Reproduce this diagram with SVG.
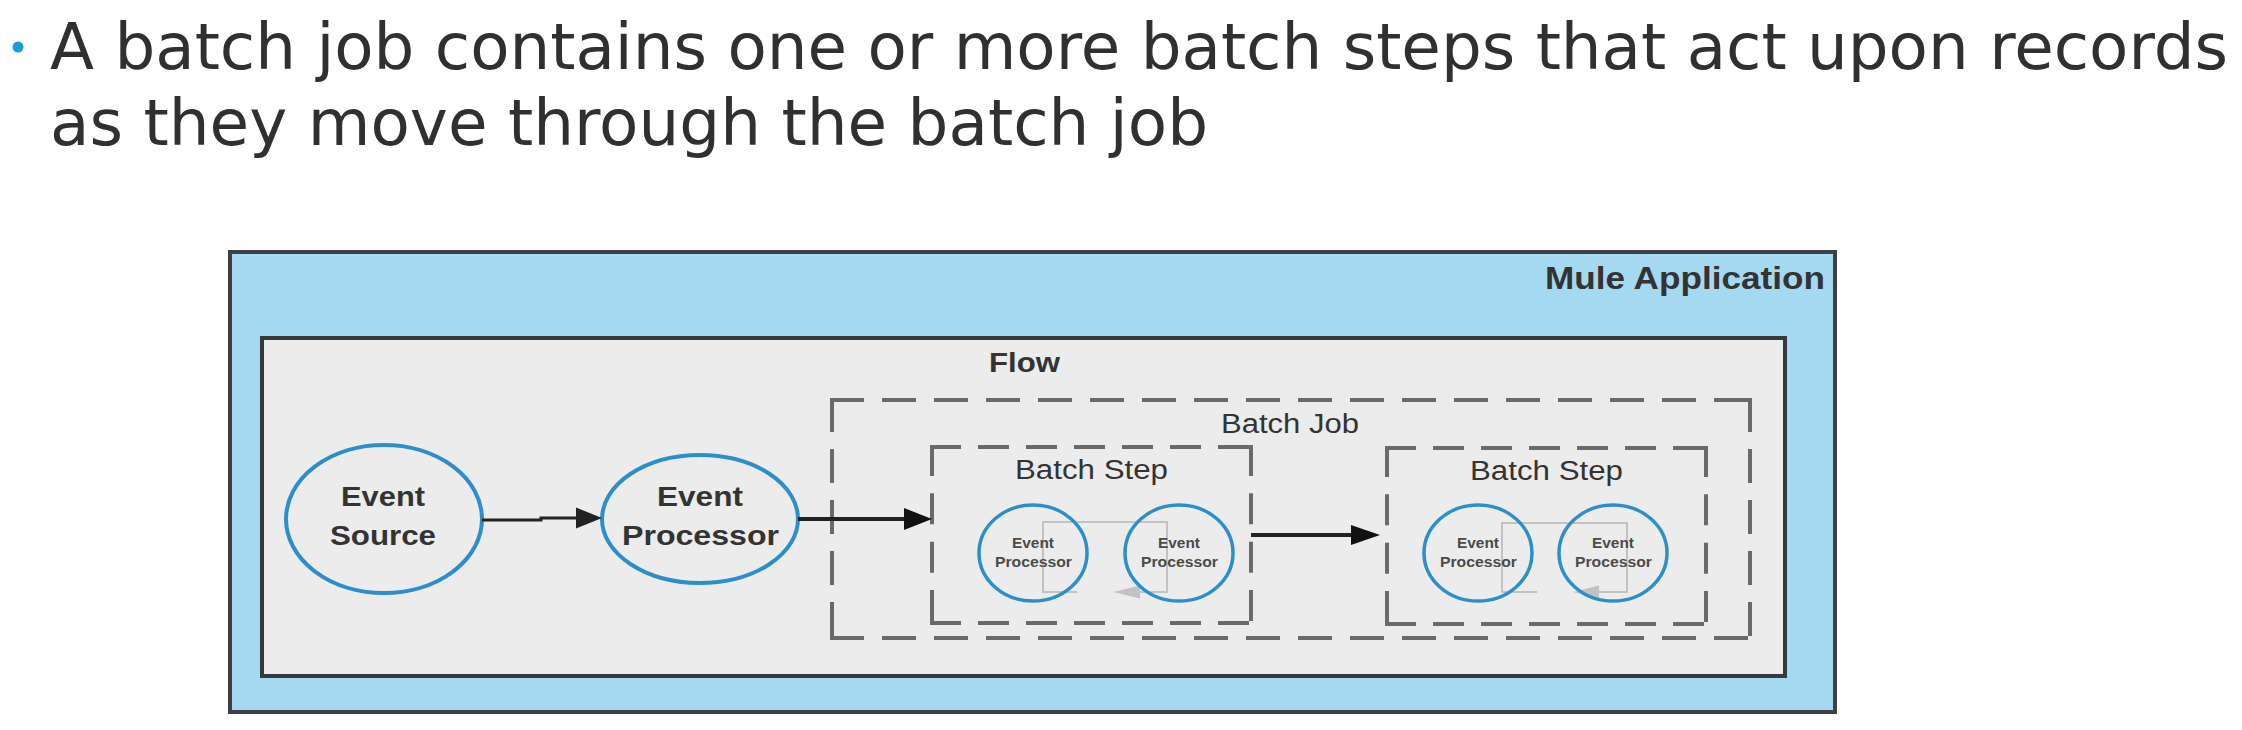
<svg xmlns="http://www.w3.org/2000/svg" width="2242" height="730" viewBox="0 0 2242 730">
<style>
.head{font-family:"DejaVu Sans",Verdana,sans-serif;font-size:64px;fill:#303030}
.lbl{font-family:"Liberation Sans",Arial,sans-serif;fill:#333}
.b{font-weight:bold}
.ell{fill:none;stroke:#2c8fcb;stroke-width:4}
.sell{fill:none;stroke:#2c8fcb;stroke-width:3.5}
.dh{stroke:#6a6a6a;stroke-width:4;stroke-linecap:square;fill:none}
.loop{fill:none;stroke:#c2c2c2;stroke-width:2}
.conn{fill:none;stroke:#222}
.tiny{font-family:"Liberation Sans",Arial,sans-serif;font-size:14px;font-weight:bold;fill:#4a4a4a}
</style>
<rect width="2242" height="730" fill="#ffffff"/>
<g id="heading">
<circle cx="18" cy="47" r="5.5" fill="#1b9bd7"/>
<text class="head" x="50" y="69" textLength="2178" lengthAdjust="spacingAndGlyphs">A batch job contains one or more batch steps that act upon records</text>
<text class="head" x="50" y="145" textLength="1158" lengthAdjust="spacingAndGlyphs">as they move through the batch job</text>
</g>
<g id="mule-application">
<rect x="230" y="252" width="1605" height="460" fill="#a4d9f1" stroke="#3b4144" stroke-width="4"/>
<text class="lbl b" x="1545" y="289" font-size="31" textLength="280" lengthAdjust="spacingAndGlyphs">Mule Application</text>
</g>
<g id="flow">
<rect x="262" y="338" width="1523" height="338" fill="#ececec" stroke="#33393c" stroke-width="4"/>
<text class="lbl b" x="989" y="372" font-size="28" textLength="71" lengthAdjust="spacingAndGlyphs">Flow</text>
</g>
<g id="batch-job">
<line class="dh" x1="832" y1="400" x2="1750" y2="400" stroke-dasharray="30 22"/>
<line class="dh" x1="832" y1="638" x2="1750" y2="638" stroke-dasharray="30 22"/>
<line class="dh" x1="832" y1="400" x2="832" y2="638" stroke-dasharray="30 21"/>
<line class="dh" x1="1750" y1="400" x2="1750" y2="638" stroke-dasharray="30 21"/>
<text class="lbl" x="1221" y="433" font-size="27" textLength="138" lengthAdjust="spacingAndGlyphs">Batch Job</text>
</g>
<g id="batch-step-1">
<line class="dh" x1="932" y1="447" x2="1251" y2="447" stroke-dasharray="27 21"/>
<line class="dh" x1="932" y1="623" x2="1251" y2="623" stroke-dasharray="27 21"/>
<line class="dh" x1="932" y1="447" x2="932" y2="623" stroke-dasharray="27 21.33"/>
<line class="dh" x1="1251" y1="447" x2="1251" y2="623" stroke-dasharray="27 21.33"/>
<text class="lbl" x="1015" y="479" font-size="27" textLength="153" lengthAdjust="spacingAndGlyphs">Batch Step</text>
<path class="loop" d="M1077 592 H1043 V522 H1167 V592 H1140"/>
<polygon points="1113,592 1140,585.5 1140,598.5" fill="#c2c2c2"/>
</g>
<g id="batch-step-2">
<line class="dh" x1="1387" y1="448" x2="1706" y2="448" stroke-dasharray="27 21"/>
<line class="dh" x1="1387" y1="624" x2="1706" y2="624" stroke-dasharray="27 21"/>
<line class="dh" x1="1387" y1="448" x2="1387" y2="624" stroke-dasharray="27 21.33"/>
<line class="dh" x1="1706" y1="448" x2="1706" y2="624" stroke-dasharray="27 21.33"/>
<text class="lbl" x="1470" y="480" font-size="27" textLength="153" lengthAdjust="spacingAndGlyphs">Batch Step</text>
<path class="loop" d="M1537 592 H1502 V523 H1627 V592 H1598"/>
<polygon points="1573,592 1599,585.5 1599,598.5" fill="#c2c2c2"/>
</g>
<g id="event-source">
<ellipse class="ell" cx="384" cy="519" rx="98" ry="74"/>
<text class="lbl b" x="341" y="506" font-size="27" textLength="84" lengthAdjust="spacingAndGlyphs">Event</text>
<text class="lbl b" x="330" y="545" font-size="27" textLength="106" lengthAdjust="spacingAndGlyphs">Source</text>
</g>
<g id="event-processor">
<ellipse class="ell" cx="700" cy="519" rx="98" ry="64"/>
<text class="lbl b" x="657" y="506" font-size="27" textLength="86" lengthAdjust="spacingAndGlyphs">Event</text>
<text class="lbl b" x="622" y="545" font-size="27" textLength="157" lengthAdjust="spacingAndGlyphs">Processor</text>
</g>
<g id="step1-processor-a">
<ellipse class="sell" cx="1033" cy="553" rx="54" ry="48"/>
<text class="tiny" x="1012" y="548" textLength="42" lengthAdjust="spacingAndGlyphs">Event</text>
<text class="tiny" x="995" y="567" textLength="77" lengthAdjust="spacingAndGlyphs">Processor</text>
</g>
<g id="step1-processor-b">
<ellipse class="sell" cx="1179" cy="553" rx="54" ry="48"/>
<text class="tiny" x="1158" y="548" textLength="42" lengthAdjust="spacingAndGlyphs">Event</text>
<text class="tiny" x="1141" y="567" textLength="77" lengthAdjust="spacingAndGlyphs">Processor</text>
</g>
<g id="step2-processor-a">
<ellipse class="sell" cx="1478" cy="553" rx="54" ry="48"/>
<text class="tiny" x="1457" y="548" textLength="42" lengthAdjust="spacingAndGlyphs">Event</text>
<text class="tiny" x="1440" y="567" textLength="77" lengthAdjust="spacingAndGlyphs">Processor</text>
</g>
<g id="step2-processor-b">
<ellipse class="sell" cx="1613" cy="553" rx="54" ry="48"/>
<text class="tiny" x="1592" y="548" textLength="42" lengthAdjust="spacingAndGlyphs">Event</text>
<text class="tiny" x="1575" y="567" textLength="77" lengthAdjust="spacingAndGlyphs">Processor</text>
</g>
<g id="connectors">
<path class="conn" stroke-width="3" d="M482 520 H541 V518 H580"/>
<polygon points="576,507.5 602,518 576,528.5" fill="#222"/>
<path class="conn" stroke-width="4" d="M798 519 H906"/>
<polygon points="904,508 932,519 904,530" fill="#111"/>
<path class="conn" stroke-width="4" d="M1251 535 H1354"/>
<polygon points="1351,525 1380,535 1351,545" fill="#111"/>
</g>
</svg>
